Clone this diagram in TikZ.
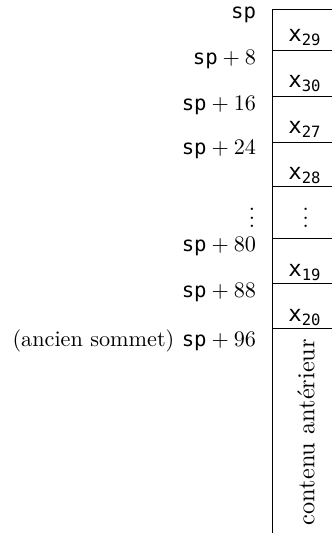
\documentclass[tikz,border=0pt]{standalone}
\usepackage{amsmath}
\usepackage{fontspec}
\setmonofont{DejaVu Sans Mono}
\newfontfamily\labtt{DejaVu Sans Mono}[Scale=0.93]
\newcommand\ltt[1]{\text{\labtt #1}}
\begin{document}
\begin{tikzpicture}[x=0.45pt,y=-0.45pt,line width=0.4pt,
  lab/.style={inner sep=0pt,anchor=base east},
  cell/.style={inner sep=0pt,anchor=base},
  rule/.style={draw=black}]
\useasboundingbox (0,0) rectangle (332,533);
% stack outline
\coordinate (top) at (272,9);
\coordinate (bot) at (272,533);
\coordinate (topr) at (332,9);
\draw[rule] (topr) -- (top) -- (bot);
\foreach \y/\n in {50.5/a,96.7/b,142.7/c,186.7/d,238.3/e,283.3/f,328.3/g}{
  \coordinate (L\n) at (272,\y);
  \coordinate (R\n) at (332,\y);
  \draw[rule] (L\n) -- (R\n);
}
% addresses
\node[lab] (l0) at (256.5,18.3) {\labtt sp};
\node[lab] (l1) at (256.5,65) {$\ltt{sp}+8$};
\node[lab] (l2) at (256.5,110.7) {$\ltt{sp}+16$};
\node[lab] (l3) at (256.5,155) {$\ltt{sp}+24$};
\node[inner sep=0pt,anchor=base] (l4) at (252,228) {$\vdots$};
\node[lab] (l5) at (256.5,251.7) {$\ltt{sp}+80$};
\node[lab] (l6) at (256.5,297.5) {$\ltt{sp}+88$};
\node[lab] (l7) at (256.5,346) {(ancien sommet) $\ltt{sp}+96$};
% cells
\node[cell] (c0) at (305,42) {$\texttt{x}_{\texttt{29}}$};
\node[cell] (c1) at (305,87.5) {$\texttt{x}_{\texttt{30}}$};
\node[cell] (c2) at (305,133.5) {$\texttt{x}_{\texttt{27}}$};
\node[cell] (c3) at (305,180) {$\texttt{x}_{\texttt{28}}$};
\node[cell] (c4) at (305.7,228) {$\vdots$};
\node[cell] (c5) at (305,276.7) {$\texttt{x}_{\texttt{19}}$};
\node[cell] (c6) at (305,321.7) {$\texttt{x}_{\texttt{20}}$};
\node[inner sep=0pt,rotate=90,font=\fontsize{10.95}{13}\selectfont] (c7) at (306,432) {contenu antérieur};
\end{tikzpicture}
\end{document}
